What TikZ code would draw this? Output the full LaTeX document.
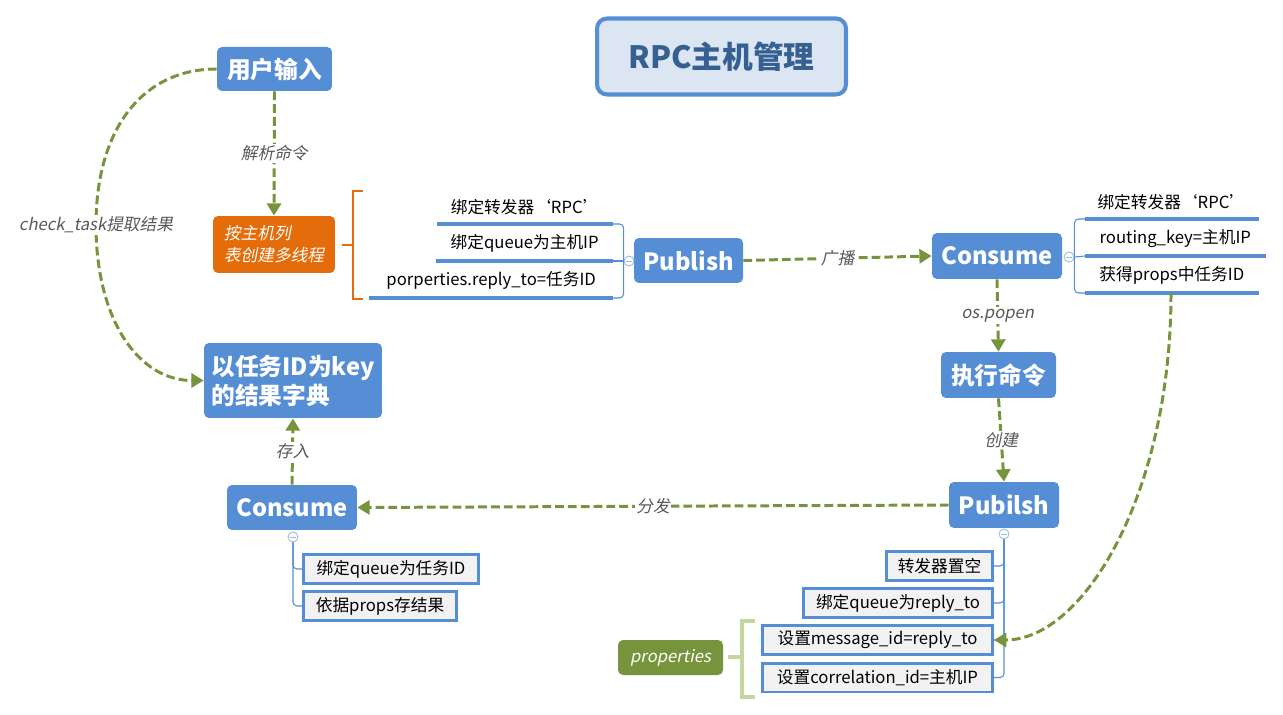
\documentclass[tikz,border=0pt]{standalone}
\usepackage{fontspec}
\setmainfont{Noto Sans CJK SC}[AutoFakeSlant=0.2]
\usetikzlibrary{arrows.meta}
\definecolor{nodeblue}{RGB}{85,142,213}
\definecolor{titlefill}{RGB}{220,230,242}
\definecolor{titletext}{RGB}{55,96,146}
\definecolor{flowgreen}{RGB}{119,147,60}
\definecolor{bracegreen}{RGB}{195,214,155}
\definecolor{taskorange}{RGB}{228,108,10}
\definecolor{itemgray}{RGB}{242,242,242}
\definecolor{lblgray}{RGB}{89,89,89}

\begin{document}
\begin{tikzpicture}[x=0.02cm,y=-0.02cm,
    topic/.style={rounded corners=0.1cm,fill=nodeblue,text=white,inner sep=0pt,
      font=\fontsize{13.5}{16}\selectfont\bfseries},
    itembox/.style={draw=nodeblue,line width=1.7pt,fill=itemgray,inner sep=0pt,
      minimum height=0.58cm,font=\fontsize{9.5}{11}\selectfont},
    uline/.style={inner sep=0pt,minimum height=0.68cm,font=\fontsize{9.5}{11}\selectfont},
    fold/.style={circle,draw=nodeblue!60,fill=white,line width=0.5pt,minimum size=0.2cm,
      inner sep=0pt,path picture={\draw[nodeblue!60,line width=0.5pt]
        ([xshift=-1.8pt]path picture bounding box.center) --
        ([xshift=1.8pt]path picture bounding box.center);}},
    branch/.style={draw=nodeblue,line width=0.6pt,rounded corners=0.08cm},
    underline/.style={nodeblue,line width=2pt},
    flow/.style={flowgreen,line width=1.7pt,dash pattern=on 5pt off 2.3pt,
      -{Triangle[length=7pt,width=8pt]}},
    lbl/.style={fill=white,inner sep=1pt,text=lblgray,font=\fontsize{9.5}{11}\selectfont\itshape}]
  \useasboundingbox (0,0) rectangle (1283,715);

  \node[draw=nodeblue,line width=2.3pt,fill=titlefill,rounded corners=0.2cm,
    minimum width=4.98cm,minimum height=1.52cm,text=titletext,
    font=\fontsize{17.5}{20}\selectfont\bfseries] (title) at (721.5,56.5) {RPC主机管理};

  % main topics
  \node[topic,minimum width=2.3cm,minimum height=0.88cm] (user) at (274.5,69) {用户输入};
  \node[topic,fill=taskorange,minimum width=2.44cm,minimum height=1.14cm,align=left,
    font=\fontsize{9.5}{12.5}\selectfont\itshape] (split) at (274,244.5) {按主机列\\表创建多线程};
  \node[topic,minimum width=2.18cm,minimum height=0.9cm] (pub) at (688.5,260.5) {Publish};
  \node[topic,minimum width=2.6cm,minimum height=0.92cm] (hostcon) at (997,256) {Consume};
  \node[topic,minimum width=2.3cm,minimum height=0.92cm] (exec) at (998.5,375) {执行命令};
  \node[topic,minimum width=2.2cm,minimum height=0.92cm] (hostpub) at (1004,505) {Pubilsh};
  \node[topic,minimum width=2.6cm,minimum height=0.9cm] (rescon) at (292,507.5) {Consume};
  \node[topic,minimum width=3.56cm,minimum height=1.5cm,align=left,
    font=\fontsize{13.5}{16.5}\selectfont\bfseries] (dict) at (293,380.5) {以任务ID为key\\的结果字典};
  \node[topic,fill=flowgreen,minimum width=2.1cm,minimum height=0.7cm,
    font=\fontsize{9.5}{11}\selectfont\itshape] (props) at (670.5,657.5) {properties};

  % items of Publish
  \node[uline,minimum width=3.5cm,anchor=south east] (pa) at (613,224) {绑定转发器‘RPC’};
  \node[uline,minimum width=3.52cm,anchor=south east] (pb) at (613,261) {绑定queue为主机IP};
  \node[uline,minimum width=4.86cm,anchor=south east] (pc) at (613,298) {porperties.reply\_to=任务ID};
  \foreach \n in {pa,pb,pc} \draw[underline] (\n.south west) -- (\n.south east);
  \node[fold] (pfold) at (629,261) {};
  \draw[branch] (pa.south east) -| (pfold.west);
  \draw[branch] (pb.south east) -- (pfold.west);
  \draw[branch] (pc.south east) -| (pfold.west);

  % items of Consume
  \node[uline,minimum width=3.46cm,anchor=south west] (ca) at (1085,219) {绑定转发器‘RPC’};
  \node[uline,minimum width=3.6cm,anchor=south west] (cb) at (1085,256) {routing\_key=主机IP};
  \node[uline,minimum width=3.46cm,anchor=south west] (cc) at (1085,293) {获得props中任务ID};
  \foreach \n in {ca,cb,cc} \draw[underline] (\n.south west) -- (\n.south east);
  \node[fold] (cfold) at (1069,257) {};
  \draw[branch] (ca.south west) -| (cfold.east);
  \draw[branch] (cb.south west) -- (cfold.east);
  \draw[branch] (cc.south west) -| (cfold.east);

  % items of Pubilsh
  \node[itembox,minimum width=2.12cm] (ha) at (939.5,566) {转发器置空};
  \node[itembox,minimum width=3.78cm] (hb) at (898,603) {绑定queue为reply\_to};
  \node[itembox,minimum width=4.6cm] (hc) at (877.5,640) {设置message\_id=reply\_to};
  \node[itembox,minimum width=4.6cm] (hd) at (877.5,677.5) {设置correlation\_id=主机IP};
  \node[fold] (hfold) at (1004,534) {};
  \foreach \n in {ha,hb,hc,hd} \draw[branch] (hfold.south) |- (\n.east);

  % items of result Consume
  \node[itembox,minimum width=3.5cm] (ra) at (391,569) {绑定queue为任务ID};
  \node[itembox,minimum width=3.06cm] (rb) at (380,606) {依据props存结果};
  \node[fold] (rfold) at (293,537) {};
  \foreach \n in {ra,rb} \draw[branch] (rfold.south) |- (\n.west);

  % brackets
  \draw[taskorange,line width=0.6pt] (342,245) -- (353,245) (363,191) -| (353,299) -- (363,299);
  \draw[bracegreen,line width=2.5pt] (728,657) -- (742,657) (755,621) -| (742,697) -- (755,697);

  % flows
  \draw[flow] (user.south) -- node[lbl] {解析命令} (split.north);
  \draw[flow] (pub.east) -- node[lbl] {广播} (hostcon.west);
  \draw[flow] (hostcon.south) -- node[lbl] {os.popen} (exec.north);
  \draw[flow] (exec.south) -- node[lbl] {创建} (hostpub.north);
  \draw[flow] (hostpub.west) -- node[lbl] {分发} (rescon.east);
  \draw[flow] (rescon.north) -- node[lbl] {存入} (dict.south);
  \coordinate (ckmid) at (96,225);
  \draw[flow] (user.west) .. controls +(-75,0) and +(0,-95) .. (ckmid)
    .. controls +(0,95) and +(-65,0) .. (dict.west);
  \node[lbl] (cklbl) at (ckmid) {check\_task提取结果};
  \coordinate (tid) at (1171,293);
  \draw[flow] (tid) .. controls +(0,200) and +(90,0) .. (hc.east);
\end{tikzpicture}
\end{document}
